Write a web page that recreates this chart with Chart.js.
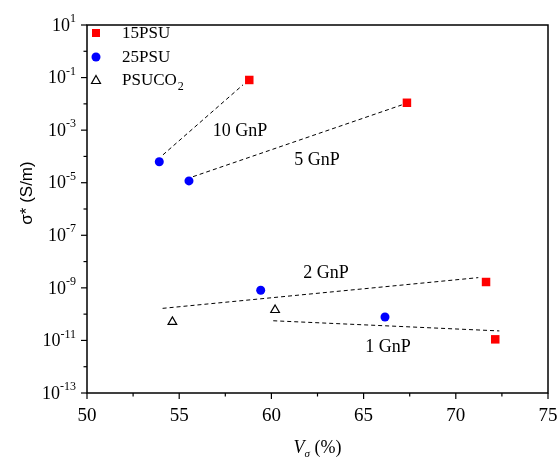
<!DOCTYPE html>
<html>
<head>
<meta charset="utf-8">
<script src="https://cdn.jsdelivr.net/npm/chart.js@4"></script>
<style>
  body { margin: 0; background: #fff; }
</style>
</head>
<body>
<canvas id="myChart" width="559" height="459"></canvas>
<script>
// measured points
const psu15X = [58.8, 67.35, 71.64, 72.14];
const psu15Y = [0.081, 0.011, 1.67e-9, 1.1e-11];
const psu25X = [53.92, 55.53, 59.42, 66.16];
const psu25Y = [6.3e-5, 1.17e-5, 8.1e-10, 7.8e-11];
const psuco2X = [54.63, 60.2];
const psuco2Y = [5.1e-11, 1.44e-10];

// dashed trend lines
const gnp10X = [54.12, 58.46];
const gnp10Y = [1.15e-4, 0.053];
const gnp5X = [55.75, 67.07];
const gnp5Y = [1.7e-5, 9.1e-3];
const gnp2X = [54.1, 71.22];
const gnp2Y = [1.66e-10, 2.45e-9];
const gnp1X = [60.1, 72.36];
const gnp1Y = [5.6e-11, 2.3e-11];

// text next to lines
const lineLabels = ['10 GnP', '5 GnP', '2 GnP', '1 GnP'];
const lineLabelX = [58.3, 62.47, 62.96, 66.32];
const lineLabelY = [9.3e-4, 7.4e-5, 3.7e-9, 5.6e-12];

const seriesNames = ['15PSU', '25PSU', 'PSUCO2'];
const yExponents = [-13, -12, -11, -10, -9, -8, -7, -6, -5, -4, -3, -2, -1, 0, 1];

const SERIF = '"Liberation Serif", "Times New Roman", serif';
const SANS = '"Liberation Sans", Arial, sans-serif';

const pts = (xs, ys) => xs.map((x, i) => ({ x: x, y: ys[i] }));

const dashed = (xs, ys) => ({
  type: 'line',
  data: pts(xs, ys),
  borderColor: '#000',
  borderWidth: 1,
  borderDash: [4, 3],
  pointRadius: 0,
  showLine: true,
  fill: false
});

const extras = {
  id: 'extras',
  afterDraw(chart) {
    const { ctx, chartArea: a, scales: { x, y } } = chart;
    ctx.save();

    // frame
    ctx.strokeStyle = '#000';
    ctx.lineWidth = 1.5;
    ctx.strokeRect(a.left, a.top, a.right - a.left, a.bottom - a.top);

    // x tick marks
    ctx.lineWidth = 1.2;
    x.ticks.forEach(t => {
      const px = x.getPixelForValue(t.value);
      const len = t.value % 5 === 0 ? 6 : 3.5;
      ctx.beginPath();
      ctx.moveTo(px, a.bottom);
      ctx.lineTo(px, a.bottom + len);
      ctx.stroke();
    });

    // y tick marks and labels
    y.ticks.forEach(t => {
      const k = Math.round(Math.log10(t.value));
      const py = y.getPixelForValue(t.value);
      const major = Math.abs(k) % 2 === 1;
      ctx.beginPath();
      ctx.moveTo(a.left, py);
      ctx.lineTo(a.left - (major ? 6 : 3.5), py);
      ctx.stroke();
      if (major) {
        ctx.fillStyle = '#000';
        ctx.textBaseline = 'middle';
        ctx.textAlign = 'right';
        const sup = String(k);
        ctx.font = '12px ' + SERIF;
        const sw = ctx.measureText(sup).width;
        ctx.fillText(sup, a.left - 11, py - 6);
        ctx.font = '18px ' + SERIF;
        ctx.fillText('10', a.left - 11 - sw, py + 1);
      }
    });

    // line labels
    ctx.fillStyle = '#000';
    ctx.font = '18px ' + SERIF;
    ctx.textAlign = 'center';
    ctx.textBaseline = 'middle';
    lineLabels.forEach((txt, i) => {
      ctx.fillText(txt, x.getPixelForValue(lineLabelX[i]), y.getPixelForValue(lineLabelY[i]));
    });

    // legend
    const lx = a.left + 9;
    const rows = [a.top + 8, a.top + 32, a.top + 55];
    ctx.fillStyle = '#ff0000';
    ctx.fillRect(lx - 4, rows[0] - 4, 8, 8);
    ctx.fillStyle = '#0000ff';
    ctx.beginPath();
    ctx.arc(lx, rows[1], 4.5, 0, Math.PI * 2);
    ctx.fill();
    ctx.strokeStyle = '#000';
    ctx.lineWidth = 1.2;
    ctx.beginPath();
    ctx.moveTo(lx, rows[2] - 4.5);
    ctx.lineTo(lx + 4.5, rows[2] + 3.5);
    ctx.lineTo(lx - 4.5, rows[2] + 3.5);
    ctx.closePath();
    ctx.stroke();

    ctx.fillStyle = '#000';
    ctx.textAlign = 'left';
    ctx.font = '17px ' + SERIF;
    const tx = a.left + 35;
    ctx.fillText(seriesNames[0], tx, rows[0] + 1);
    ctx.fillText(seriesNames[1], tx, rows[1] + 1);
    const base = seriesNames[2].slice(0, -1);
    ctx.fillText(base, tx, rows[2] + 1);
    const bw = ctx.measureText(base).width;
    ctx.font = '12px ' + SERIF;
    ctx.fillText(seriesNames[2].slice(-1), tx + bw + 1, rows[2] + 7);

    // axis titles
    ctx.font = '17px ' + SANS;
    ctx.textAlign = 'center';
    ctx.save();
    ctx.translate(27, 193);
    ctx.rotate(-Math.PI / 2);
    ctx.fillText('σ* (S/m)', 0, 0);
    ctx.restore();

    const cx = (a.left + a.right) / 2;
    ctx.textAlign = 'left';
    ctx.font = 'italic 18px ' + SERIF;
    const vw = ctx.measureText('V').width;
    ctx.font = '18px ' + SERIF;
    const pw = ctx.measureText(' (%)').width;
    ctx.font = 'italic 11px ' + SERIF;
    const sw2 = ctx.measureText('σ').width;
    const sx = cx - (vw + sw2 + pw) / 2;
    ctx.font = 'italic 18px ' + SERIF;
    ctx.fillText('V', sx, 448);
    ctx.font = 'italic 11px ' + SERIF;
    ctx.fillText('σ', sx + vw, 454);
    ctx.font = '18px ' + SERIF;
    ctx.fillText(' (%)', sx + vw + sw2, 448);

    ctx.restore();
  }
};

const ctx = document.getElementById('myChart');
// eslint-disable-next-line no-unused-vars
const myChart = new Chart(ctx, {
  type: 'scatter',
  data: {
    datasets: [
      {
        label: seriesNames[0],
        data: pts(psu15X, psu15Y),
        pointStyle: 'rect',
        pointRadius: 6,
        backgroundColor: '#ff0000',
        borderColor: '#ff0000',
        borderWidth: 0
      },
      {
        label: seriesNames[1],
        data: pts(psu25X, psu25Y),
        pointStyle: 'circle',
        pointRadius: 4.5,
        backgroundColor: '#0000ff',
        borderColor: '#0000ff',
        borderWidth: 0
      },
      {
        label: seriesNames[2],
        data: pts(psuco2X, psuco2Y),
        pointStyle: 'triangle',
        pointRadius: 5,
        backgroundColor: 'rgba(0,0,0,0)',
        borderColor: '#000',
        borderWidth: 1.2
      },
      dashed(gnp10X, gnp10Y),
      dashed(gnp5X, gnp5Y),
      dashed(gnp2X, gnp2Y),
      dashed(gnp1X, gnp1Y)
    ]
  },
  options: {
    responsive: false,
    animation: false,
    layout: { padding: { top: 25, right: 11, left: 0, bottom: 0 } },
    plugins: {
      legend: { display: false },
      tooltip: { enabled: false }
    },
    scales: {
      x: {
        type: 'linear',
        min: 50,
        max: 75,
        border: { display: false },
        grid: { display: false, drawTicks: false },
        ticks: {
          stepSize: 2.5,
          autoSkip: false,
          maxRotation: 0,
          padding: 12,
          color: '#000',
          font: { family: SERIF, size: 19 },
          callback: v => (v % 5 === 0 ? v : '')
        },
        afterFit: s => {
          s.height = 66;
          s.paddingLeft = 0;
          s.paddingRight = 0;
        }
      },
      y: {
        type: 'logarithmic',
        min: 1e-13,
        max: 10,
        border: { display: false },
        grid: { display: false, drawTicks: false },
        ticks: { display: false },
        afterBuildTicks: s => { s.ticks = yExponents.map(k => ({ value: Math.pow(10, k) })); },
        afterFit: s => { s.width = 87; }
      }
    }
  },
  plugins: [extras]
});
</script>
</body>
</html>
